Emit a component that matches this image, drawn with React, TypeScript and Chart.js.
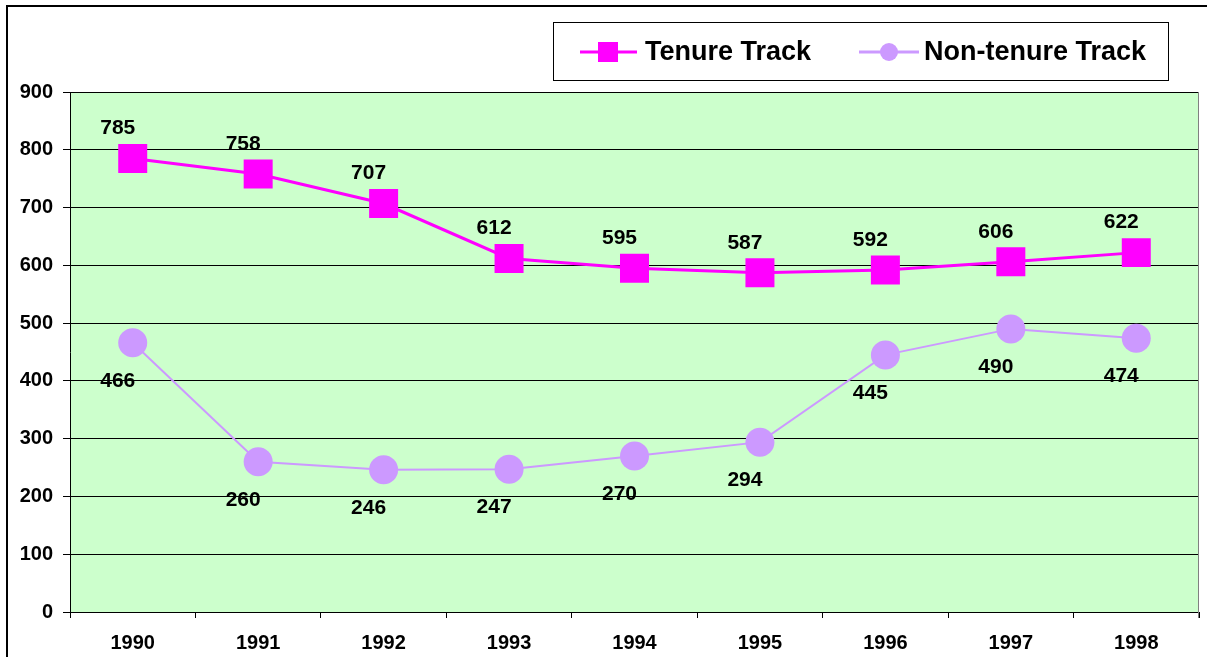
import React, { useEffect, useRef } from "react";
import { Chart, registerables } from "chart.js";

Chart.register(...registerables);

const years = ["1990", "1991", "1992", "1993", "1994", "1995", "1996", "1997", "1998"];
const tenureTrack = [785, 758, 707, 612, 595, 587, 592, 606, 622];
const nonTenureTrack = [466, 260, 246, 247, 270, 294, 445, 490, 474];
const seriesNames = ["Tenure Track", "Non-tenure Track"];
const yMin = 0;
const yMax = 900;
const yStep = 100;

const FONT = '"Liberation Sans", Arial, sans-serif';
const TENURE_COLOR = "#FF00FF";
const NON_TENURE_COLOR = "#CC99FF";

const framePlugin = {
  id: "frame",
  beforeDraw(chart: any) {
    const { ctx, chartArea } = chart;
    ctx.save();
    ctx.fillStyle = "#FFFFFF";
    ctx.fillRect(0, 0, chart.width, chart.height);
    ctx.fillStyle = "#CCFFCC";
    ctx.fillRect(chartArea.left, chartArea.top, chartArea.right - chartArea.left, chartArea.bottom - chartArea.top);
    ctx.strokeStyle = "#000";
    ctx.lineWidth = 2;
    ctx.strokeRect(7, 6, chart.width + 20, chart.height + 20);
    ctx.restore();
  },
  afterDatasetsDraw(chart: any) {
    const { ctx, chartArea } = chart;
    ctx.save();
    ctx.strokeStyle = "#808080";
    ctx.lineWidth = 1;
    ctx.beginPath();
    ctx.moveTo(chartArea.right - 0.5, chartArea.top);
    ctx.lineTo(chartArea.right - 0.5, chartArea.bottom + 6);
    ctx.stroke();

    ctx.fillStyle = "#000";
    ctx.font = `bold 21px ${FONT}`;
    ctx.textAlign = "center";
    ctx.textBaseline = "middle";
    chart.data.datasets.forEach((ds: any, di: number) => {
      const meta = chart.getDatasetMeta(di);
      meta.data.forEach((pt: any, i: number) => {
        const dy = di === 0 ? -30 : 38;
        ctx.fillText(String(ds.data[i]), pt.x - 15, pt.y + dy);
      });
    });
    ctx.restore();
  },
  afterDraw(chart: any) {
    const { ctx } = chart;
    ctx.save();
    ctx.fillStyle = "#FFFFFF";
    ctx.fillRect(553.5, 22.5, 615, 58);
    ctx.strokeStyle = "#000";
    ctx.lineWidth = 1;
    ctx.strokeRect(553.5, 22.5, 615, 58);
    const cy = 52;
    ctx.strokeStyle = TENURE_COLOR;
    ctx.lineWidth = 3;
    ctx.beginPath();
    ctx.moveTo(580, cy);
    ctx.lineTo(637, cy);
    ctx.stroke();
    ctx.fillStyle = TENURE_COLOR;
    ctx.fillRect(598, cy - 10, 20, 20);
    ctx.strokeStyle = NON_TENURE_COLOR;
    ctx.beginPath();
    ctx.moveTo(859, cy);
    ctx.lineTo(919, cy);
    ctx.stroke();
    ctx.fillStyle = NON_TENURE_COLOR;
    ctx.beginPath();
    ctx.arc(889, cy, 9, 0, Math.PI * 2);
    ctx.fill();
    ctx.fillStyle = "#000";
    ctx.font = `bold 27px ${FONT}`;
    ctx.textAlign = "left";
    ctx.textBaseline = "middle";
    ctx.fillText(seriesNames[0], 645, cy + 1);
    ctx.fillText(seriesNames[1], 924, cy + 1);
    ctx.restore();
  },
};

export default function App() {
  const canvasRef = useRef<HTMLCanvasElement | null>(null);

  useEffect(() => {
    const canvas = canvasRef.current;
    if (!canvas) return;
    const chart = new Chart(canvas, {
      type: "line",
      data: {
        labels: years,
        datasets: [
          {
            label: seriesNames[0],
            data: tenureTrack,
            borderColor: TENURE_COLOR,
            backgroundColor: TENURE_COLOR,
            borderWidth: 3,
            pointStyle: "rect",
            pointRadius: 20.5,
            pointHoverRadius: 20.5,
            pointBorderWidth: 0,
            pointBackgroundColor: TENURE_COLOR,
            tension: 0,
          },
          {
            label: seriesNames[1],
            data: nonTenureTrack,
            borderColor: NON_TENURE_COLOR,
            backgroundColor: NON_TENURE_COLOR,
            borderWidth: 2,
            pointStyle: "circle",
            pointRadius: 14.5,
            pointHoverRadius: 14.5,
            pointBorderWidth: 0,
            pointBackgroundColor: NON_TENURE_COLOR,
            tension: 0,
          },
        ],
      },
      options: {
        responsive: false,
        devicePixelRatio: 1,
        animation: false,
        events: [],
        layout: { autoPadding: false, padding: { left: 0, top: 92, right: 8, bottom: 0 } },
        plugins: {
          legend: { display: false },
          title: { display: false },
          tooltip: { enabled: false },
        },
        scales: {
          x: {
            type: "category",
            offset: true,
            grid: {
              display: true,
              drawOnChartArea: false,
              offset: true,
              tickLength: 6,
              color: "#000",
              lineWidth: 1,
            },
            border: { display: true, color: "#000", width: 1 },
            ticks: {
              color: "#000",
              font: { family: FONT, size: 20, weight: "bold" },
              padding: 13,
              maxRotation: 0,
              autoSkip: false,
            },
            afterFit(scale: any) {
              scale.height = 45;
            },
          },
          y: {
            min: yMin,
            max: yMax,
            grid: {
              color: "#000",
              lineWidth: 1,
              tickLength: 7,
            },
            border: { display: true, color: "#000", width: 1 },
            ticks: {
              stepSize: yStep,
              color: "#000",
              font: { family: FONT, size: 20, weight: "bold" },
              padding: 10,
            },
            afterFit(scale: any) {
              scale.width = 70;
            },
          },
        },
      },
      plugins: [framePlugin],
    });
    return () => chart.destroy();
  }, []);

  return (
    <div style={{ position: "fixed", left: 0, top: 0, width: 1207, height: 657, background: "#fff" }}>
      <canvas ref={canvasRef} width={1207} height={657} style={{ display: "block", width: 1207, height: 657 }} />
    </div>
  );
}
